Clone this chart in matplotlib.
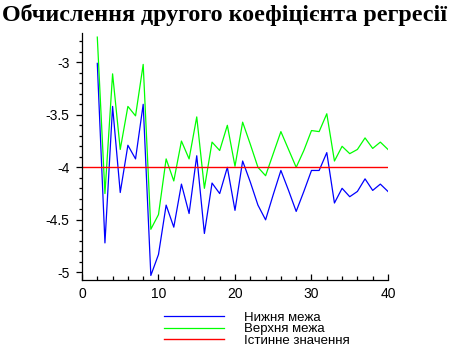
import matplotlib
matplotlib.use("Agg")
import matplotlib.pyplot as plt
from matplotlib.ticker import MultipleLocator

# sample size (x) and the two bounds of the interval for the 2nd coefficient
n = list(range(2, 41))
lower = [-3.01, -4.72, -3.42, -4.24, -3.79, -3.92, -3.40, -5.03, -4.83, -4.36,
         -4.57, -4.16, -4.44, -3.89, -4.63, -4.15, -4.25, -4.00, -4.41, -3.94,
         -4.14, -4.36, -4.50, -4.26, -4.03, -4.22, -4.42, -4.23, -4.03, -4.03,
         -3.86, -4.34, -4.20, -4.28, -4.23, -4.11, -4.22, -4.16, -4.23]
upper = [-2.76, -4.25, -3.11, -3.83, -3.42, -3.51, -3.02, -4.59, -4.45, -3.92,
         -4.13, -3.75, -3.92, -3.52, -4.20, -3.76, -3.84, -3.60, -3.99, -3.57,
         -3.78, -4.00, -4.08, -3.87, -3.66, -3.83, -4.00, -3.84, -3.65, -3.66,
         -3.49, -3.94, -3.80, -3.87, -3.83, -3.72, -3.82, -3.76, -3.83]
true_x = [0, 40]
true_val = [-4, -4]

labels = ['Нижня межа', 'Верхня межа', 'Істинне значення']
title = 'Обчислення другого коефіцієнта регресії'

fig = plt.figure(figsize=(4.5, 3.63), dpi=100)
ax = fig.add_axes([0.1822, 0.2287, 0.68, 0.6795])

l1, = ax.plot(n, lower, color='#0000ff', lw=0.9)
l2, = ax.plot(n, upper, color='#00ff00', lw=0.9)
l3, = ax.plot(true_x, true_val, color='#ff0000', lw=1.0)

ax.set_xlim(0, 40)
ax.set_ylim(-5.073, -2.724)
ax.spines['top'].set_visible(False)
ax.spines['right'].set_visible(False)
ax.spines['left'].set_linewidth(0.9)
ax.spines['bottom'].set_linewidth(0.9)

ax.xaxis.set_major_locator(MultipleLocator(10))
ax.xaxis.set_minor_locator(MultipleLocator(2))
ax.yaxis.set_major_locator(MultipleLocator(0.5))
ax.yaxis.set_minor_locator(MultipleLocator(0.1))
ax.tick_params(axis='x', which='major', direction='in', length=4, width=0.9, pad=5)
ax.tick_params(axis='x', which='minor', direction='in', length=3, width=0.9)
ax.tick_params(axis='y', which='major', direction='out', length=4, width=0.9, pad=5)
ax.tick_params(axis='y', which='minor', direction='out', length=2.5, width=0.9)
ax.yaxis.set_major_formatter(matplotlib.ticker.FuncFormatter(lambda v, p: '%g' % v))
for t in ax.get_xticklabels() + ax.get_yticklabels():
    t.set_fontfamily('Liberation Sans')
    t.set_fontsize(10)

fig.text(0.5, 1 - 21 / 363, title, ha='center', va='baseline',
         fontfamily='Liberation Serif', fontweight='bold', fontsize=17.3)

fig.legend([l1, l2, l3], labels, loc='upper left', bbox_to_anchor=(0.364, 0.142),
           frameon=False, handlelength=4.6, handletextpad=1.45, labelspacing=-0.05,
           borderpad=0, borderaxespad=0,
           prop={'family': 'Liberation Sans', 'size': 9.5})

fig.savefig('out.png', dpi=100)
